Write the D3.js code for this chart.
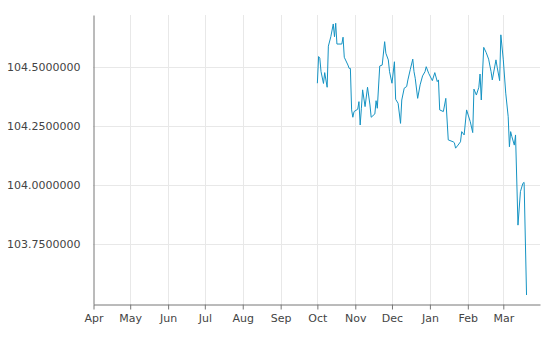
<!DOCTYPE html>
<html>
<head>
<meta charset="utf-8">
<script src="https://cdn.jsdelivr.net/npm/d3@7"></script>
<style>
  body { margin: 0; background: #fff; }
  svg { display: block; font-family: "DejaVu Sans", Verdana, sans-serif; }
</style>
</head>
<body>
<svg id="chart" width="549" height="339"></svg>
<script>
// daily values
const dates = [
  '2019-10-01', '2019-10-02', '2019-10-03', '2019-10-04', '2019-10-06', '2019-10-07',
  '2019-10-09', '2019-10-10', '2019-10-12', '2019-10-14', '2019-10-15', '2019-10-16',
  '2019-10-17', '2019-10-21', '2019-10-22', '2019-10-23', '2019-10-26', '2019-10-27',
  '2019-10-28', '2019-10-29', '2019-10-30', '2019-10-31', '2019-11-03', '2019-11-04',
  '2019-11-05', '2019-11-06', '2019-11-07', '2019-11-09', '2019-11-11', '2019-11-13',
  '2019-11-14', '2019-11-17', '2019-11-18', '2019-11-19', '2019-11-21', '2019-11-23',
  '2019-11-25', '2019-11-26', '2019-11-28', '2019-11-29', '2019-12-01', '2019-12-03',
  '2019-12-04', '2019-12-06', '2019-12-08', '2019-12-09', '2019-12-11', '2019-12-13',
  '2019-12-14', '2019-12-16', '2019-12-18', '2019-12-19', '2019-12-20', '2019-12-22',
  '2019-12-24', '2019-12-26', '2019-12-28', '2019-12-29', '2019-12-31', '2020-01-03',
  '2020-01-05', '2020-01-07', '2020-01-08', '2020-01-09', '2020-01-12', '2020-01-14',
  '2020-01-16', '2020-01-20', '2020-01-21', '2020-01-22', '2020-01-24', '2020-01-26',
  '2020-01-27', '2020-01-29', '2020-01-31', '2020-02-03', '2020-02-05', '2020-02-06',
  '2020-02-08', '2020-02-10', '2020-02-11', '2020-02-12', '2020-02-14', '2020-02-16',
  '2020-02-18', '2020-02-20', '2020-02-21', '2020-02-24', '2020-02-25', '2020-02-27',
  '2020-02-28', '2020-03-01', '2020-03-03', '2020-03-05', '2020-03-06', '2020-03-07',
  '2020-03-08', '2020-03-10', '2020-03-11', '2020-03-13', '2020-03-15', '2020-03-17',
  '2020-03-18', '2020-03-20'
];

const values = [
  104.431, 104.544, 104.537, 104.480, 104.430, 104.476,
  104.414, 104.588, 104.628, 104.682, 104.628, 104.685,
  104.597, 104.597, 104.626, 104.541, 104.508, 104.494,
  104.494, 104.318, 104.287, 104.311, 104.321, 104.353,
  104.254, 104.325, 104.403, 104.332, 104.414, 104.339,
  104.287, 104.301, 104.357, 104.325, 104.504, 104.508,
  104.607, 104.558, 104.530, 104.480, 104.431, 104.522,
  104.363, 104.346, 104.261, 104.360, 104.410, 104.417,
  104.445, 104.490, 104.533, 104.480, 104.452, 104.367,
  104.424, 104.462, 104.480, 104.501, 104.473, 104.442,
  104.476, 104.438, 104.445, 104.318, 104.311, 104.367,
  104.191, 104.183, 104.179, 104.156, 104.169, 104.183,
  104.226, 104.212, 104.318, 104.268, 104.222, 104.406,
  104.381, 104.414, 104.470, 104.360, 104.583, 104.561,
  104.533, 104.480, 104.445, 104.530, 104.499, 104.442,
  104.636, 104.530, 104.389, 104.289, 104.162, 104.226,
  104.205, 104.169, 104.212, 103.830, 103.972, 104.007,
  104.011, 103.534
];

const yTicks = [103.75, 104.0, 104.25, 104.5];

const parse = d3.timeParse('%Y-%m-%d');
const data = dates.map((d, i) => ({ date: parse(d), value: values[i] }));

const svg = d3.select('#chart');

const x = d3.scaleTime()
  .domain([new Date(2019, 3, 1), new Date(2020, 2, 31)])
  .range([93.5, 540]);

const y = d3.scaleLinear()
  .domain([103.496, 104.72])
  .range([304, 15]);

const months = d3.timeMonth.range(new Date(2019, 3, 1), new Date(2020, 3, 1));

// grid
svg.append('g')
  .selectAll('line')
  .data(months.slice(1))
  .join('line')
  .attr('x1', d => Math.round(x(d)) + 0.5)
  .attr('x2', d => Math.round(x(d)) + 0.5)
  .attr('y1', 15)
  .attr('y2', 304)
  .attr('stroke', '#e8e8e8');

svg.append('g')
  .selectAll('line')
  .data(yTicks)
  .join('line')
  .attr('x1', 93)
  .attr('x2', 540)
  .attr('y1', d => Math.round(y(d)) + 0.5)
  .attr('y2', d => Math.round(y(d)) + 0.5)
  .attr('stroke', '#e8e8e8');

// axes
const xAxis = svg.append('g')
  .attr('transform', 'translate(0,304.5)')
  .call(d3.axisBottom(x)
    .tickValues(months)
    .tickFormat(d3.timeFormat('%b'))
    .tickSize(5)
    .tickSizeOuter(0)
    .tickPadding(5));

const yAxis = svg.append('g')
  .attr('transform', 'translate(93.5,0)')
  .call(d3.axisLeft(y)
    .tickValues(yTicks)
    .tickFormat(d3.format('.7f'))
    .tickSize(0)
    .tickPadding(13));

[xAxis, yAxis].forEach(g => {
  g.select('.domain').attr('stroke', '#777');
  g.selectAll('.tick line').attr('stroke', '#777');
  g.selectAll('.tick text')
    .attr('fill', '#444')
    .style('font-size', '11px')
    .style('font-family', '"DejaVu Sans", Verdana, sans-serif');
});

// the series
const line = d3.line()
  .x(d => x(d.date))
  .y(d => y(d.value));

svg.append('path')
  .datum(data)
  .attr('fill', 'none')
  .attr('stroke', '#1593c3')
  .attr('stroke-width', 1)
  .attr('d', line);
</script>
</body>
</html>
